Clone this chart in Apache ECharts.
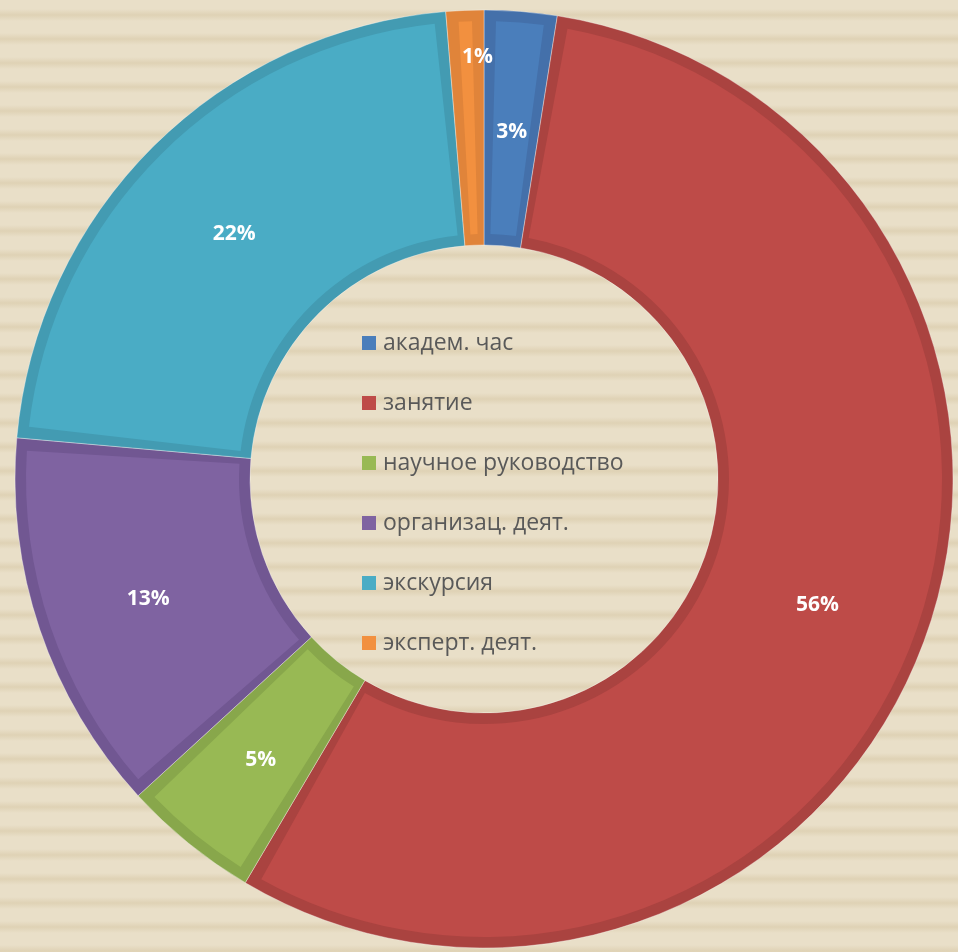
<!DOCTYPE html>
<html>
<head>
<meta charset="utf-8">
<script src="https://cdn.jsdelivr.net/npm/echarts@6/dist/echarts.min.js"></script>
<style>
  html, body {
    margin: 0;
    padding: 0;
  }
  body {
    /* бежевый фон в полоску */
    background: repeating-linear-gradient(to bottom,
      #E9DFC8 0px, #E9DFC8 9px, #DFD2B5 15px, #E9DFC8 21px, #E9DFC8 24px);
  }
  #main {
    width: 958px;
    height: 952px;
  }
</style>
</head>
<body>
<div id="main"></div>
<script>
// категории и доли (%)
var names = ["академ. час", "занятие", "научное руководство", "организац. деят.", "экскурсия", "эксперт. деят."];
var values = [2.5, 56.0, 4.7, 13.2, 22.3, 1.3];

var fillColors = ["#4A7EBB", "#BE4B48", "#98B954", "#7F63A1", "#4AACC5", "#F2903F"];
var edgeColors = ["#4470AA", "#AA4340", "#88A74B", "#715792", "#439BB2", "#E0843A"];

var chartDom = document.getElementById("main");
var myChart = echarts.init(chartDom, null, { renderer: "canvas" });

var edgeData = names.map(function (n, i) {
  return { name: n, value: values[i], itemStyle: { color: edgeColors[i] } };
});
var fillData = names.map(function (n, i) {
  return { name: n, value: values[i], itemStyle: { color: fillColors[i] } };
});

var option = {
  backgroundColor: "transparent",
  animation: false,
  legend: {
    orient: "vertical",
    left: 362,
    top: 331,
    padding: 0,
    icon: "rect",
    itemWidth: 14,
    itemHeight: 14,
    itemGap: 36,
    selectedMode: false,
    textStyle: {
      color: "#595959",
      fontSize: 23,
      lineHeight: 24,
      padding: [0, 0, 0, 2],
      fontFamily: "Open Sans",
    },
    data: names.map(function (n, i) {
      return { name: n, itemStyle: { color: fillColors[i], borderWidth: 0 } };
    }),
  },
  series: [
    {
      // тёмная окантовка секторов
      type: "pie",
      center: [484, 479],
      radius: [234, 469],
      silent: true,
      label: { show: false },
      labelLine: { show: false },
      itemStyle: { borderColor: "rgba(255,255,255,0.35)", borderWidth: 1 },
      data: edgeData,
    },
    {
      type: "pie",
      center: [484, 479],
      radius: [245, 458],
      padAngle: 3,
      silent: true,
      label: {
        show: true,
        position: "inside",
        color: "#fff",
        fontSize: 21,
        fontWeight: "bold",
        fontFamily: "Open Sans",
        formatter: function (p) {
          return Math.round(p.percent) + "%";
        },
      },
      labelLayout: function (p) {
        // подпись 1% вынесена ближе к краю
        if (p.dataIndex === names.length - 1) {
          return { dx: 8, dy: -68 };
        }
        return { dy: 6 };
      },
      labelLine: { show: false },
      data: fillData,
    },
  ],
};

option && myChart.setOption(option);
</script>
</body>
</html>
